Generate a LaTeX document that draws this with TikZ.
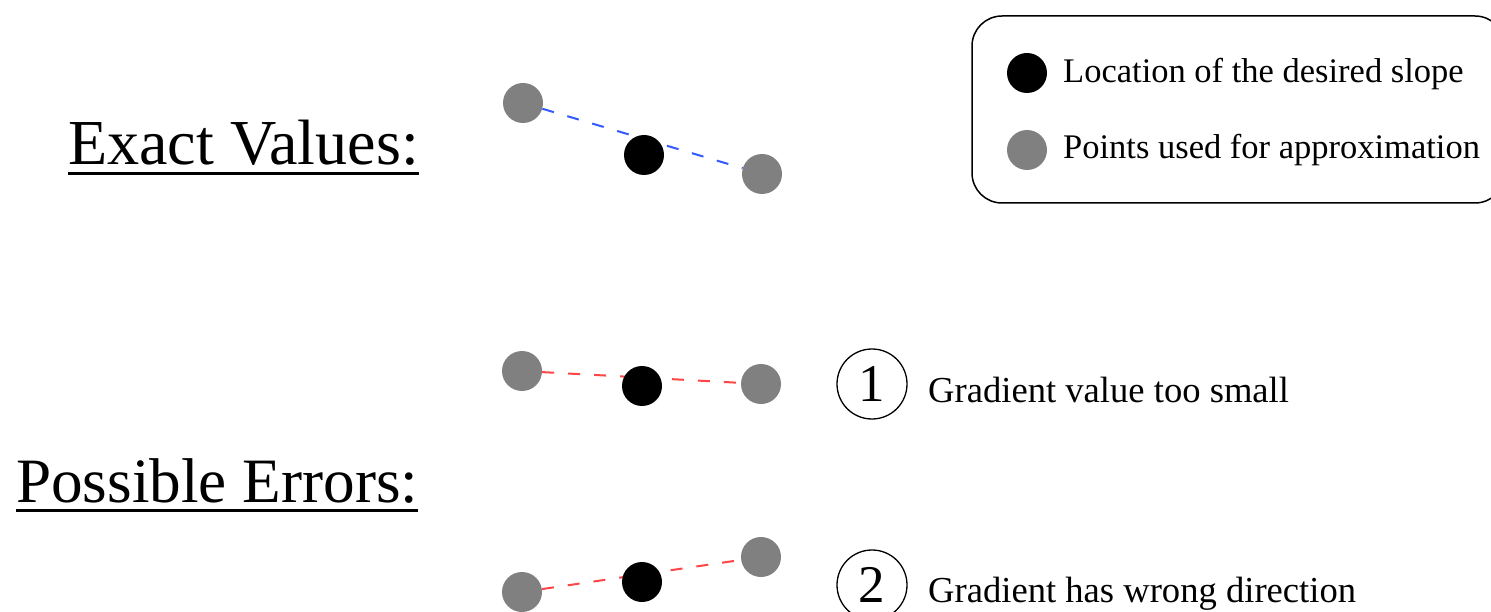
\documentclass[tikz,border=0pt]{standalone}
\usepackage{fontspec}
\setmainfont{Liberation Serif}
\usetikzlibrary{calc,backgrounds}
\definecolor{ptgray}{RGB}{128,128,128}
\definecolor{lineblue}{RGB}{50,90,255}
\definecolor{linered}{RGB}{255,70,70}
\tikzset{
  dot/.style={circle,minimum size=40pt,inner sep=0pt,fill=#1},
  grayd/.style={dot=ptgray},
  blackd/.style={dot=black},
  dashline/.style={draw=#1,line width=2pt,dash pattern=on 12pt off 14pt},
  heading/.style={inner sep=0pt,anchor=base west,font=\fontsize{#1}{70}\selectfont},
  legtext/.style={inner sep=0pt,anchor=base west,font=\fontsize{34.5}{40}\selectfont},
  errtext/.style={inner sep=0pt,anchor=base west,font=\fontsize{36.6}{42}\selectfont},
  numcirc/.style={circle,draw,line width=1.3pt,minimum size=70pt,inner sep=0pt,font=\fontsize{53}{60}\selectfont},
  uline/.style={line width=3pt}
}
\begin{document}
\begin{tikzpicture}[x=1pt,y=-1pt]
\useasboundingbox (0,0) rectangle (1491,612);

% headings
\node[heading=64.1] (ev) at (68,165) {Exact Values:};
\draw[uline] ($(ev.base west)+(0,9)$) -- ($(ev.base east)+(0,9)$);
\node[heading=63.2] (pe) at (16,502) {Possible Errors:};
\draw[uline] ($(pe.base west)+(0,8)$) -- ($(pe.base east)+(0,8)$);

% exact values
\node[grayd] (e1) at (523,103) {};
\node[blackd] (e2) at (644,155) {};
\node[grayd] (e3) at (762,174) {};

% error 1
\node[grayd] (a1) at (522,371) {};
\node[blackd] (a2) at (642,386) {};
\node[grayd] (a3) at (761,384) {};

% error 2
\node[grayd] (b1) at (522,592) {};
\node[blackd] (b2) at (642,582) {};
\node[grayd] (b3) at (761,557) {};

\begin{pgfonlayer}{background}
\fill[white] (0,0) rectangle (1491,612);
\draw[dashline=lineblue] (e1) -- (e3);
\draw[dashline=linered] (a1) -- (a3);
\draw[dashline=linered] (b1) -- (b3);
\end{pgfonlayer}

% numbered labels
\node[numcirc] (n1) at (872,384) {1};
\node[errtext] (t1) at (928,402) {Gradient value too small};
\node[numcirc] (n2) at (872,585) {2};
\node[errtext] (t2) at (928,602) {Gradient has wrong direction};

% legend
\draw[line width=1.5pt,rounded corners=30pt] (972,16) rectangle (1505,203);
\node[blackd] (l1) at (1027,73) {};
\node[legtext] (lt1) at (1063,83) {Location of the desired slope};
\node[grayd] (l2) at (1027,150) {};
\node[legtext] (lt2) at (1063,159) {Points used for approximation};
\end{tikzpicture}
\end{document}
